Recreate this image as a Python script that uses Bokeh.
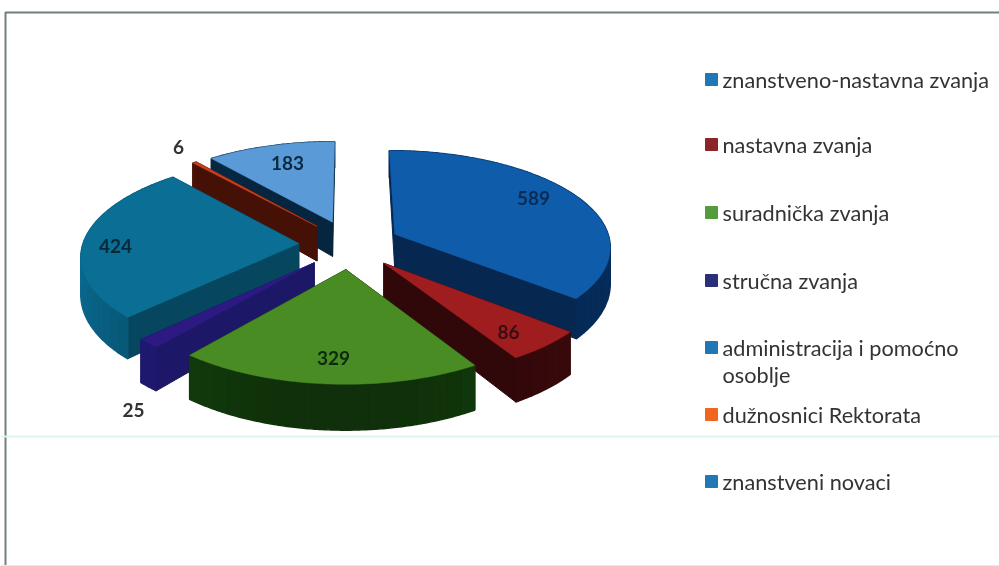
import numpy as np
from bokeh.plotting import figure
from bokeh.models import Range1d
from bokeh.core.properties import value
from bokeh.embed import file_html
from bokeh.resources import INLINE

categories = ["znanstveno-nastavna zvanja", "nastavna zvanja", "suradnička zvanja", "stručna zvanja",
              "administracija i pomoćno\nosoblje", "dužnosnici Rektorata", "znanstveni novaci"]
values = [589, 86, 329, 25, 424, 6, 183]

top_colors = ["#0f5cab", "#a01d1f", "#4a8c24", "#2c1a82", "#0a6e95", "#c8401c", "#5a9ad6"]
wall_colors = ["#052750", "#30080a", "#0f300a", "#1c1766", "#07465f", "#451006", "#06263f"]
wall_light = [0.15, 0.3, 0.5, 0.2, 0.5, 0.2, 0.2]
legend_colors = ["#1f77b4", "#8a2528", "#559a3c", "#2a2f7a", "#1f77b4", "#f0661e", "#2078b4"]
label_colors = ["#0a2c58", "#3a0d12", "#0b2a10", "#333333", "#06293a", "#333333", "#0a2a42"]

# placement of the drawing, in page pixels
CX, CY, RX, RY = 349, 244, 216, 97.5
EXPLODE_X, EXPLODE_Y, PERSP, DEPTH, DEPTH_PERSP = 0.235, 0.25, 0.118, 36, 0.22
label_xy = [(533, 197), (508, 331), (333, 357), (133, 409), (115, 245), (178, 146), (287, 162)]
legend_y = [79, 144, 212, 280, 347, 414, 481]
LEG_X, LEG_TX = 711, 722

p = figure(width=999, height=566, x_range=Range1d(0, 999), y_range=Range1d(566, 0),
           toolbar_location=None, output_backend="svg", min_border=0)
p.axis.visible = False
p.grid.visible = False
p.outline_line_color = None
p.background_fill_color = "#ffffff"
p.border_fill_color = "#ffffff"
p.styles = {"position": "fixed", "left": "0px", "top": "0px"}


def proj(u, v, down=0.0):
    s = 1 + PERSP * v
    return CX + RX * u * s, CY + RY * v * s + down * DEPTH * (1 + DEPTH_PERSP * v)


def shade(col, f):
    c = [min(255, int(int(col[i:i + 2], 16) * f)) for i in (1, 3, 5)]
    return "#%02x%02x%02x" % tuple(c)


total = sum(values)
edges = np.concatenate([[0], np.cumsum(values)]) / total * 2 * np.pi


def slice_parts(i):
    a0, a1 = edges[i], edges[i + 1]
    mid = (a0 + a1) / 2
    ax, ay = EXPLODE_X * np.sin(mid), -EXPLODE_Y * np.cos(mid)
    n = max(3, int((a1 - a0) * 16))
    phis = np.linspace(a0, a1, n)
    fine = np.linspace(a0, a1, max(3, int((a1 - a0) * 60)))
    return ax, ay, phis, fine


order = [6, 5, 4, 0, 3, 1, 2]
for i in order:
    ax, ay, phis, fine = slice_parts(i)
    us, vs = ax + np.sin(phis), ay - np.cos(phis)
    # radial walls
    for k in (0, -1):
        q = [(ax, ay, 0), (us[k], vs[k], 0), (us[k], vs[k], 1), (ax, ay, 1)]
        pts = [proj(*t) for t in q]
        p.patch([t[0] for t in pts], [t[1] for t in pts], fill_color=wall_colors[i],
                line_color=wall_colors[i], line_width=1)
    # outer wall as shaded bands, each with a fine curved outline
    bands = np.linspace(edges[i], edges[i + 1], len(phis))
    for j in range(len(bands) - 1):
        sub = np.linspace(bands[j], bands[j + 1], 8)
        f = 1 + wall_light[i] * np.sin((bands[j] + bands[j + 1]) / 2) ** 2
        c = shade(wall_colors[i], f)
        su, sv = ax + np.sin(sub), ay - np.cos(sub)
        up = [proj(a, b, 0) for a, b in zip(su, sv)]
        lo = [proj(a, b, 1) for a, b in zip(su[::-1], sv[::-1])]
        pts = up + lo
        p.patch([t[0] for t in pts], [t[1] for t in pts], fill_color=c, line_color=c, line_width=1.5)
    # top
    fu, fv = ax + np.sin(fine), ay - np.cos(fine)
    tx, ty = zip(*[proj(a, b) for a, b in zip(np.r_[ax, fu], np.r_[ay, fv])])
    p.patch(list(tx), list(ty), fill_color=top_colors[i], line_color=top_colors[i], line_width=0.5)

# value labels
p.text([t[0] for t in label_xy], [t[1] for t in label_xy], text=[str(v) for v in values],
       text_color=label_colors, text_font=value("Lato"), text_font_size="19px",
       text_align="center", text_baseline="middle", text_font_style="bold")

# legend
p.scatter([LEG_X] * len(categories), legend_y, marker="square", size=12, color=legend_colors)
tx, ty, tt = [], [], []
for c, y in zip(categories, legend_y):
    for k, part in enumerate(c.split("\n")):
        tx.append(LEG_TX); ty.append(y + k * 27); tt.append(part)
p.text(tx, ty, text=tt, text_color="#333333", text_font=value("Lato"), text_font_size="21.7px",
       text_align="left", text_baseline="middle")

# frame of the scanned chart
p.line([5, 5, 999], [566, 12, 12], line_color="#70807f", line_width=2)
p.line([0, 999], [436, 436], line_color="#dff5f1", line_width=2)
p.line([0, 999], [565, 565], line_color="#e8e8e8", line_width=1)

open("out.html", "w").write(file_html(p, INLINE))
